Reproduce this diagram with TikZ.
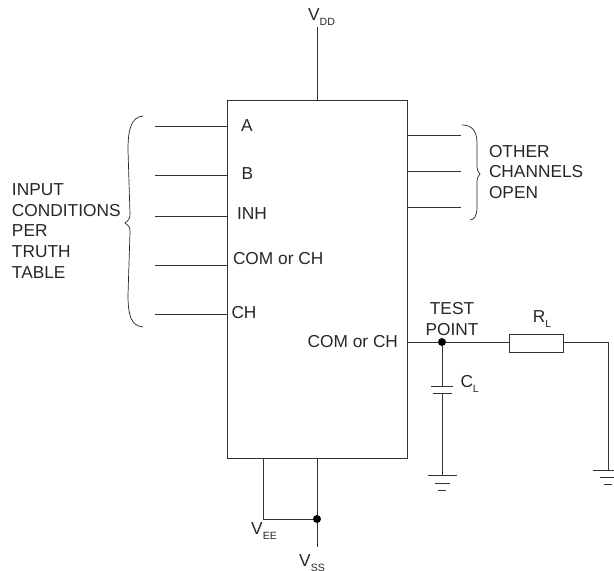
\documentclass[tikz,border=0pt]{standalone}
\usepackage{fontspec}
\setmainfont{Liberation Sans}
\newcommand{\lowsub}[1]{\raisebox{-0.5ex}{\fontsize{10.5}{10.5}\selectfont #1}}
\tikzset{
  x=1pt,y=-1pt,
  wire/.style={draw=black!80,line width=0.95pt},
  thinbrace/.style={draw=black!85,line width=0.7pt},
  lab/.style={inner sep=0pt,outer sep=0pt,text=black!85,font=\fontsize{17.3}{20.8}\selectfont},
  jdot/.style={circle,fill=black,inner sep=0pt,minimum size=8pt}
}
\begin{document}
\begin{tikzpicture}
\useasboundingbox (0,0) rectangle (614,571);
\clip (0,0) rectangle (614,571);
% main block
\node[wire,rectangle,minimum width=180pt,minimum height=358pt,inner sep=0pt,outer sep=0pt,anchor=north west] (box) at (227,100) {};
% supply
\coordinate (vddtop) at (317,27);
\coordinate (vddbot) at (317,100);
\draw[wire] (vddtop) -- (vddbot);
\node[lab,anchor=center] (vdd) at (321.5,17) {V\lowsub{DD}};
\coordinate (veetop) at (263,458);
\coordinate (veecor) at (263,519);
\coordinate (vsstop) at (317,458);
\coordinate (vssbot) at (317,547);
\node[jdot] (vdot) at (317,519) {};
\draw[wire] (veetop) -- (veecor) -- (vdot);
\draw[wire] (vsstop) -- (vdot) -- (vssbot);
\node[lab,anchor=center] (vee) at (264,531) {V\lowsub{EE}};
\node[lab,anchor=center] (vss) at (312,563) {V\lowsub{SS}};
% inputs
\foreach \n/\y in {a/126,b/175,c/216,d/265,e/314}{
  \coordinate (in\n) at (155,\y);
  \coordinate (inb\n) at (227,\y);
  \draw[wire] (in\n) -- (inb\n);
}
\node[lab,anchor=west] (la) at (241,125.5) {A};
\node[lab,anchor=west] (lb) at (241.5,173.5) {B};
\node[lab,anchor=west] (lc) at (237,214) {INH};
\node[lab,anchor=west] (ld) at (233,258.5) {COM or CH};
\node[lab,anchor=west] (le) at (231.5,313) {CH};
\node[lab,anchor=east] (lf) at (398,342) {COM or CH};
% left brace
\draw[thinbrace] (143,116) .. controls (131,117) and (128,130) .. (128,150)
  -- (130,214) .. controls (130,218) and (129,220) .. (125,223)
  .. controls (129,226) and (130,227) .. (130,232)
  -- (128,295) .. controls (128,315) and (131,326) .. (143,327);
\node[lab,anchor=west,align=left] (inputs) at (12,231) {INPUT\\CONDITIONS\\PER\\TRUTH\\TABLE};
% outputs
\foreach \n/\y in {a/135,b/171,c/207}{
  \coordinate (outa\n) at (407,\y);
  \coordinate (outb\n) at (461,\y);
  \draw[wire] (outa\n) -- (outb\n);
}
% right brace
\draw[thinbrace] (462,125) .. controls (472,125) and (477,131) .. (477,143)
  -- (477,166) .. controls (477,170) and (478,172) .. (480,174)
  .. controls (478,176) and (477,178) .. (477,182)
  -- (477,207) .. controls (477,216) and (474,220) .. (470,220);
\node[lab,anchor=west,align=left] (other) at (489,172) {OTHER\\CHANNELS\\OPEN};
% test point and load
\node[jdot] (tp) at (442,342) {};
\node[wire,rectangle,minimum width=54pt,minimum height=18pt,inner sep=0pt,outer sep=0pt] (rl) at (536,343) {};
\coordinate (boxout) at (407,342);
\coordinate (rlcor) at (608,342);
\coordinate (rlgnd) at (608,470);
\draw[wire] (boxout) -- (tp);
\draw[wire] (tp) -- (rl.west |- tp);
\draw[wire] (rl.east |- rlcor) -- (rlcor) -- (rlgnd);
\node[lab,anchor=center,align=center] (tplab) at (452,319) {TEST\\POINT};
\node[lab,anchor=center] (rllab) at (542,319) {R\lowsub{L}};
% capacitor
\coordinate (capa) at (442,386);
\coordinate (capb) at (442,393);
\coordinate (cgnd) at (442,475);
\draw[wire] (tp) -- (capa);
\draw[wire] (capb) -- (cgnd);
\draw[wire] (431,386) -- (453,386);
\draw[wire] (433,393) -- (452,393);
\node[lab,anchor=west] (cl) at (460.5,384) {C\lowsub{L}};
% grounds
\draw[wire] (428,475) -- (457,475);
\draw[wire] (435,483) -- (450,483);
\draw[wire] (438,490) -- (446,490);
\draw[wire] (593,470) -- (623,470);
\draw[wire] (600,477) -- (616,477);
\draw[wire] (604,484) -- (612,484);
\end{tikzpicture}
\end{document}
